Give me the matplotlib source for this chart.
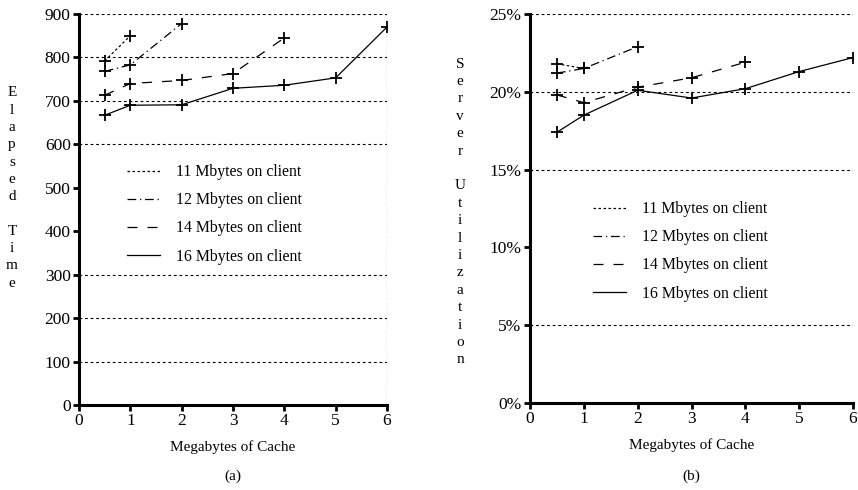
import matplotlib
matplotlib.use("Agg")
from matplotlib import pyplot as plt
from matplotlib.lines import Line2D

plt.rcParams['font.family'] = ['Liberation Serif', 'DejaVu Serif']
plt.rcParams['font.size'] = 11

# data
labels = ["11 Mbytes on client", "12 Mbytes on client", "14 Mbytes on client", "16 Mbytes on client"]
x11 = [0.5, 1]
x12 = [0.5, 1, 2]
x14 = [0.5, 1, 2, 3, 4]
x16 = [0.5, 1, 2, 3, 4, 5, 6]

# (a) elapsed time
t11 = [792, 850]
t12 = [768, 783, 878]
t14 = [713, 740, 747, 763, 845]
t16 = [667, 690, 691, 729, 736, 753, 870]

# (b) server utilization, percent
u11 = [21.8, 21.5]
u12 = [21.2, 21.5, 22.9]
u14 = [19.8, 19.3, 20.3, 20.9, 21.9]
u16 = [17.4, 18.5, 20.1, 19.6, 20.2, 21.3, 22.2]

a_ticks = [0, 100, 200, 300, 400, 500, 600, 700, 800, 900]
a_grid = [100, 200, 300, 600, 700, 800, 900]
b_ticks = [0, 5, 10, 15, 20, 25]
b_grid = [5, 15, 20, 25]

styles = [(0, (2, 2)), (0, (7, 3, 1, 3)), (0, (8, 8)), '-']

fig = plt.figure(figsize=(8.58, 4.9), dpi=100)
axa = fig.add_axes([79 / 858, 1 - 405 / 490, 308 / 858, 391 / 490])
axb = fig.add_axes([530 / 858, 1 - 403 / 490, 323 / 858, 389 / 490])


def draw(ax, ys, grid, ticks, top, anchor):
    for g in grid:
        ax.plot([0, 6], [g, g], color='black', lw=0.8, ls=(0, (2.5, 2.5)), zorder=1)
    xs = [x11, x12, x14, x16]
    for x, y, ls in zip(xs, ys, styles):
        ax.plot(x, y, color='black', lw=0.9, ls=ls, marker='+', ms=8, mew=1.3, zorder=3)
    ax.set_xlim(0, 6)
    ax.set_ylim(0, top)
    ax.set_xticks(range(7))
    ax.set_yticks(ticks)
    for s in ['top', 'right']:
        ax.spines[s].set_visible(False)
    for s in ['left', 'bottom']:
        ax.spines[s].set_linewidth(2.2)
    ax.tick_params(direction='out', length=4, width=2, labelsize=12.5, pad=2)
    ax.set_facecolor('none')
    handles = [Line2D([], [], color='black', lw=0.9, ls=ls) for ls in styles]
    ax.legend(handles, labels, frameon=False, fontsize=11.3, handlelength=2.1,
              handletextpad=1.05, labelspacing=0.78, borderpad=0, borderaxespad=0,
              loc='upper left',
              bbox_to_anchor=(anchor[0] / 858, 1 - anchor[1] / 490),
              bbox_transform=fig.transFigure)


draw(axa, [t11, t12, t14, t16], a_grid, a_ticks, 900, (127, 164))
axa.plot([6, 6], [0, 900], color='black', lw=0.8, ls=(0, (2.5, 2.5)), zorder=1)
draw(axb, [u11, u12, u14, u16], b_grid, b_ticks, 25, (593, 201))
axb.set_yticklabels([f"{v}%" for v in b_ticks])

axa.set_xlabel("Megabytes of Cache", fontsize=11, labelpad=8)
axb.set_xlabel("Megabytes of Cache", fontsize=11, labelpad=8)
fig.text(233 / 858, 1 - 476 / 490, "(a)", ha='center', va='center', fontsize=11)
fig.text(691 / 858, 1 - 476 / 490, "(b)", ha='center', va='center', fontsize=11)

fig.text(12 / 858, 1 - 188 / 490, "\n".join("Elapsed Time"), ha='center', va='center',
         fontsize=11, linespacing=1.43)
fig.text(460 / 858, 1 - 212 / 490, "\n".join("Server Utilization"), ha='center', va='center',
         fontsize=11, linespacing=1.44)

fig.savefig("out.png", dpi=100)
